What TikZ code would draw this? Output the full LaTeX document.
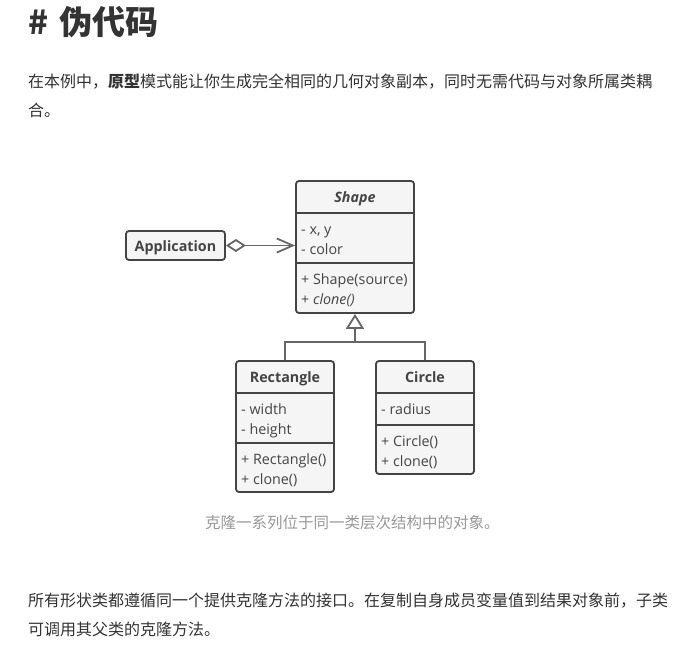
\documentclass[tikz,border=0pt]{standalone}
\usepackage{fontspec}
\newfontfamily\cjkfont{Noto Sans CJK SC}
\newfontfamily\umlfont{Open Sans}
\usetikzlibrary{arrows.meta}

\definecolor{inkdark}{HTML}{333333}
\definecolor{boxline}{HTML}{444444}
\definecolor{boxfill}{HTML}{F5F5F5}
\definecolor{linkgray}{HTML}{666666}
\definecolor{captiongray}{HTML}{999999}

\tikzset{
  umlbox/.style={draw=boxline, fill=boxfill, line width=1.8pt, rounded corners=3pt, inner sep=0pt},
  umlsep/.style={draw=boxline, line width=1.8pt},
  umltitle/.style={font=\umlfont\bfseries\fontsize{14.3}{17}\selectfont, text=boxline, inner sep=0pt, anchor=base},
  umlrow/.style={font=\umlfont\fontsize{14.3}{17}\selectfont, text=boxline, inner sep=0pt, anchor=base west},
  cjktext/.style={font=\cjkfont\fontsize{16}{20}\selectfont, text=inkdark, inner sep=0pt, anchor=west},
  headtext/.style={font=\cjkfont\bfseries\fontsize{33}{38}\selectfont, text=inkdark, inner sep=0pt, anchor=west},
  captiontext/.style={font=\cjkfont\fontsize{15.5}{19}\selectfont, text=captiongray, inner sep=0pt, anchor=west},
  aggregate/.style={draw=linkgray, line width=1.8pt, {Diamond[open, length=20pt, width=13pt]}-{Straight Barb[length=16pt, width=14pt]}},
  inherit/.style={draw=linkgray, line width=1.8pt, -{Triangle[open, length=15pt, width=18pt]}},
  link/.style={draw=linkgray, line width=1.8pt}
}

\begin{document}
\begin{tikzpicture}[x=1pt, y=-1pt]

  % page
  \fill[white] (0,0) rectangle (678,646);
  \useasboundingbox (0,0) rectangle (678,646);

  % ---- text above ----
  \node[headtext] (heading) at (28,22) {\#\hbox to 11pt{}伪代码};
  \node[cjktext] (introa) at (28,82) {在本例中，\textbf{原型}模式能让你生成完全相同的几何对象副本，同时无需代码与对象所属类耦};
  \node[cjktext] (introb) at (28,110) {合。};

  % ---- Application ----
  \node[umlbox, minimum width=99pt, minimum height=29pt] (appbox) at (175.5,245.5) {};
  \node[umltitle] (apptitle) at (175.5,251) {Application};

  % ---- Shape ----
  \node[umlbox, minimum width=118pt, minimum height=132pt] (shapebox) at (355,247) {};
  \draw[umlsep] (296,213) -- (414,213);
  \draw[umlsep] (296,263) -- (414,263);
  \node[umltitle] (shapetitle) at (355,202) {\itshape Shape};
  \node[umlrow] (shapeattra) at (301,234) {- x, y};
  \node[umlrow] (shapeattrb) at (301,254) {- color};
  \node[umlrow] (shapeopa) at (301,284) {+ Shape(source)};
  \node[umlrow] (shapeopb) at (301,304) {+ \textit{clone()}};

  % ---- Rectangle ----
  \node[umlbox, minimum width=98pt, minimum height=131pt] (rectbox) at (285,426.5) {};
  \draw[umlsep] (236,393) -- (334,393);
  \draw[umlsep] (236,443) -- (334,443);
  \node[umltitle] (recttitle) at (285,382) {Rectangle};
  \node[umlrow] (rectattra) at (241,414) {- width};
  \node[umlrow] (rectattrb) at (241,434) {- height};
  \node[umlrow] (rectopa) at (241,464) {+ Rectangle()};
  \node[umlrow] (rectopb) at (241,484) {+ clone()};

  % ---- Circle ----
  \node[umlbox, minimum width=98pt, minimum height=113pt] (circlebox) at (425,417.5) {};
  \draw[umlsep] (376,393) -- (474,393);
  \draw[umlsep] (376,425) -- (474,425);
  \node[umltitle] (circletitle) at (425,382) {Circle};
  \node[umlrow] (circleattra) at (381,414) {- radius};
  \node[umlrow] (circleopa) at (381,446) {+ Circle()};
  \node[umlrow] (circleopb) at (381,466) {+ clone()};

  % ---- connectors ----
  \draw[aggregate] (appbox.east) -- (appbox.east -| shapebox.west);
  \coordinate (joint) at (355,342);
  \draw[inherit] (joint) -- (shapebox.south);
  \draw[link] (rectbox.north) |- (joint) -| (circlebox.north);

  % ---- text below ----
  \node[captiontext] (caption) at (205,523) {克隆一系列位于同一类层次结构中的对象。};
  \node[cjktext] (bodya) at (28,601) {所有形状类都遵循同一个提供克隆方法的接口。在复制自身成员变量值到结果对象前，子类};
  \node[cjktext] (bodyb) at (28,629) {可调用其父类的克隆方法。};

\end{tikzpicture}
\end{document}
